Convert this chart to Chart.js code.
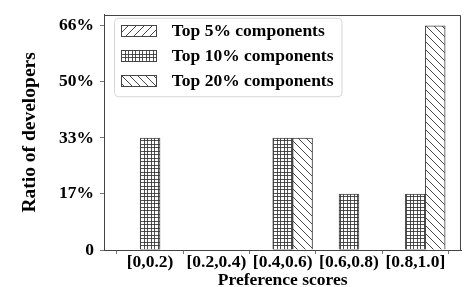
<!DOCTYPE html>
<html><head><meta charset="utf-8">
<script src="https://cdn.jsdelivr.net/npm/chart.js@4/dist/chart.umd.min.js"></script>
<style>html,body{margin:0;padding:0;background:#fff}canvas{display:block}</style>
</head><body>
<canvas id="c" width="464" height="287"></canvas>
<script>
const categories = ['[0,0.2)', '[0.2,0.4)', '[0.4,0.6)', '[0.6,0.8)', '[0.8,1.0]'];
const seriesLabels = ['Top 5% components', 'Top 10% components', 'Top 20% components'];
const top5 = [0, 0, 0, 0, 0];
const top10 = [33.33, 0, 33.33, 16.67, 16.67];
const top20 = [0, 0, 33.33, 0, 66.67];
const yTickValues = [0, 16.67, 33.33, 50, 66.67];
const yTickLabels = ['0', '17%', '33%', '50%', '66%'];

const FONT = "'Liberation Serif', 'Times New Roman', serif";
const FS = 17.5;
const LINE = '#333';
const EDGE = '#444';

function makeTile(kind) {
  const c = document.createElement('canvas');
  const s = kind === 'grid' ? 7 : 8;
  c.width = s; c.height = s;
  const g = c.getContext('2d');
  g.fillStyle = '#fff'; g.fillRect(0, 0, s, s);
  g.strokeStyle = LINE; g.fillStyle = LINE; g.lineWidth = 0.9;
  if (kind === 'grid') {
    g.globalAlpha = 0.85;
    g.fillRect(0, 0, 1, s); g.fillRect(4, 0, 1, s);
    g.fillRect(0, 0, s, 1); g.fillRect(0, 4, s, 1);
  } else if (kind === 'fwd') {
    g.beginPath();
    g.moveTo(-1, s + 1); g.lineTo(s + 1, -1);
    g.moveTo(-1, 1); g.lineTo(1, -1);
    g.moveTo(s - 1, s + 1); g.lineTo(s + 1, s - 1);
    g.stroke();
  } else {
    g.beginPath();
    g.moveTo(-1, -1); g.lineTo(s + 1, s + 1);
    g.moveTo(-1, s - 1); g.lineTo(1, s + 1);
    g.moveTo(s - 1, -1); g.lineTo(s + 1, 1);
    g.stroke();
  }
  return c;
}
const ctx0 = document.getElementById('c').getContext('2d');
const tiles = [makeTile('fwd'), makeTile('grid'), makeTile('back')];
const patterns = tiles.map(t => ctx0.createPattern(t, 'repeat'));

function makeSwatch(tile) {
  const c = document.createElement('canvas');
  c.width = 36; c.height = 12;
  const g = c.getContext('2d');
  g.fillStyle = g.createPattern(tile, 'repeat');
  g.fillRect(0, 0, 36, 12);
  g.strokeStyle = EDGE; g.lineWidth = 1;
  g.strokeRect(0.5, 0.5, 35, 11);
  return c;
}
const swatches = tiles.map(makeSwatch);

const seriesValues = [top5, top10, top20];
const datasets = seriesValues.map((vals, i) => ({
  label: seriesLabels[i],
  data: vals.map((v, k) => ({ x: k, y: v })),
  backgroundColor: patterns[i],
  borderColor: EDGE,
  borderWidth: 1,
  borderSkipped: 'bottom',
  barThickness: 19.9
}));

const legendPos = { left: 107.5, top: 14.75 };

const framePlugin = {
  id: 'frames',
  afterLayout(chart) {
    const lg = chart.legend;
    if (lg) { lg.left = legendPos.left; lg.top = legendPos.top; }
  },
  beforeDraw(chart) {
    const lg = chart.legend;
    const ctx = chart.ctx;
    const pad = lg.options.labels.padding;
    const itemX = lg.left + pad;
    const rowTop = lg.top + pad;
    ctx.save();
    ctx.font = 'bold ' + FS + 'px ' + FONT;
    const maxW = Math.max(...seriesLabels.map(t => ctx.measureText(t).width));
    const textX = itemX + lg.options.labels.pointStyleWidth + FS / 2;
    const x0 = itemX - 0.5, y0 = rowTop - 4;
    const x1 = textX + maxW + 8.5, y1 = rowTop + 2 * (FS + pad) + FS + 7;
    const r = 4;
    ctx.beginPath();
    ctx.moveTo(x0 + r, y0); ctx.lineTo(x1 - r, y0); ctx.arcTo(x1, y0, x1, y0 + r, r);
    ctx.lineTo(x1, y1 - r); ctx.arcTo(x1, y1, x1 - r, y1, r);
    ctx.lineTo(x0 + r, y1); ctx.arcTo(x0, y1, x0, y1 - r, r);
    ctx.lineTo(x0, y0 + r); ctx.arcTo(x0, y0, x0 + r, y0, r);
    ctx.closePath();
    ctx.fillStyle = 'rgba(255,255,255,0.8)';
    ctx.fill();
    ctx.strokeStyle = '#d6d6d6'; ctx.lineWidth = 1;
    ctx.stroke();
    ctx.restore();
  },
  afterDatasetsDraw(chart) {
    const ca = chart.chartArea, ctx = chart.ctx;
    ctx.save();
    ctx.strokeStyle = EDGE; ctx.lineWidth = 1;
    ctx.beginPath();
    const t = Math.round(ca.top) + 0.5, r = Math.round(ca.right) - 0.5;
    ctx.moveTo(ca.left, t); ctx.lineTo(r, t); ctx.lineTo(r, ca.bottom);
    ctx.stroke();
    ctx.restore();
  }
};

new Chart(ctx0, {
  type: 'bar',
  data: { datasets },
  plugins: [framePlugin],
  options: {
    responsive: false,
    animation: false,
    devicePixelRatio: 1,
    layout: { padding: { top: 9, right: 2.6, left: 0, bottom: 0 } },
    plugins: {
      tooltip: { enabled: false },
      legend: {
        position: 'chartArea',
        align: 'start',
        labels: {
          usePointStyle: true,
          pointStyleWidth: 48,
          boxHeight: 12,
          padding: 7.5,
          color: '#000',
          font: { family: FONT, size: FS, weight: 'bold' },
          generateLabels: chart => chart.data.datasets.map((ds, i) => ({
            text: ds.label, pointStyle: swatches[i], fillStyle: '#fff',
            strokeStyle: EDGE, lineWidth: 0, hidden: false, datasetIndex: i, fontColor: '#000'
          }))
        }
      }
    },
    scales: {
      x: {
        type: 'linear',
        min: -0.695,
        max: 4.695,
        offset: false,
        afterBuildTicks: s => { s.ticks = categories.map((c, i) => ({ value: i })); },
        afterFit: s => { s.height = 37; },
        ticks: {
          autoSkip: false, maxRotation: 0, minRotation: 0, padding: 0, color: '#000',
          font: { family: FONT, size: FS, weight: 'bold', lineHeight: 1 },
          callback: v => categories[Math.round(v)]
        },
        grid: { drawOnChartArea: false, drawTicks: true, tickLength: 4, color: '#777' },
        border: { display: true, color: EDGE, width: 1 },
        title: {
          display: true, text: 'Preference scores', color: '#000',
          font: { family: FONT, size: FS, weight: 'bold', lineHeight: 0.8 },
          padding: { top: 2, bottom: 0 }
        }
      },
      y: {
        min: 0,
        max: 70,
        afterBuildTicks: s => { s.ticks = yTickValues.map(v => ({ value: v })); },
        afterFit: s => { s.width = 104; },
        ticks: {
          padding: 6, color: '#000',
          font: { family: FONT, size: FS, weight: 'bold', lineHeight: 1 },
          callback: (v, i) => yTickLabels[i]
        },
        grid: { drawOnChartArea: false, drawTicks: true, tickLength: 4, color: '#777' },
        border: { display: true, color: EDGE, width: 1 },
        title: {
          display: true, text: 'Ratio of developers', color: '#000',
          font: { family: FONT, size: 19.5, weight: 'bold', lineHeight: 1 },
          padding: { top: 20.25, bottom: 0 }
        }
      }
    }
  }
});
</script>
</body></html>
